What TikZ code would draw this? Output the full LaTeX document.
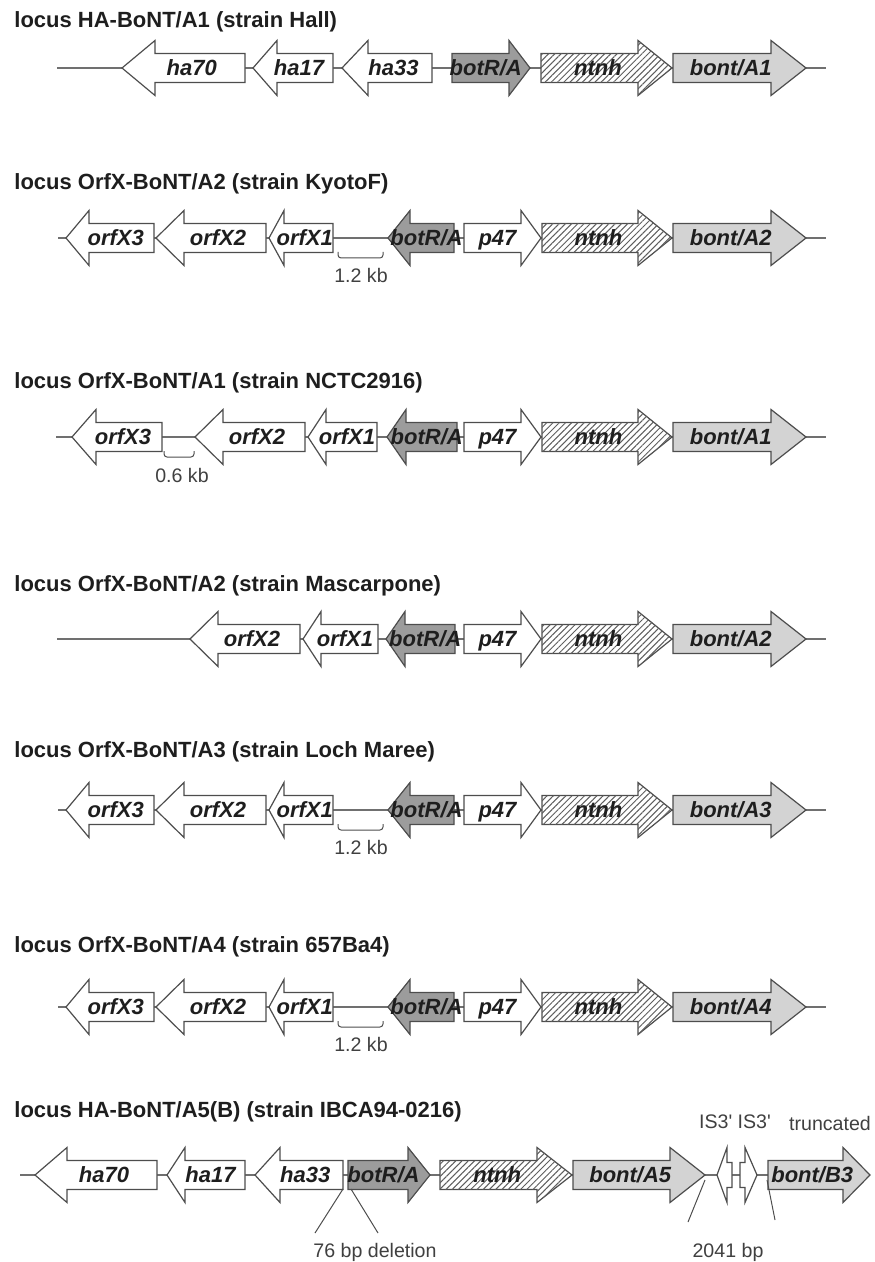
\documentclass[tikz,border=0pt]{standalone}
\usepackage{fontspec}
\setmainfont{Liberation Sans}
\newfontfamily\straightsans{Liberation Sans}[Ligatures=TeXOff]
\usetikzlibrary{patterns.meta}

\definecolor{outl}{HTML}{4d4d4d}
\definecolor{spine}{HTML}{707070}
\definecolor{botrfill}{HTML}{9c9c9c}
\definecolor{bontfill}{HTML}{d3d3d3}
\definecolor{hatch}{HTML}{5e5e5e}
\definecolor{ink}{HTML}{1e1e1e}

\tikzset{
  whitegene/.style={draw=outl, line width=.6pt, fill=white},
  botrgene/.style={whitegene, fill=botrfill},
  bontgene/.style={whitegene, fill=bontfill},
  ntnhgene/.style={whitegene, postaction={pattern={Lines[angle=45,distance=2.2pt,line width=.5pt]}, pattern color=hatch}},
  genelabel/.style={font=\fontsize{11}{13}\selectfont\bfseries\itshape, text=ink, inner sep=0pt, text height=7.9pt, text depth=0pt},
  locustitle/.style={font=\fontsize{11}{13}\selectfont\bfseries, text=ink, anchor=west, inner sep=0pt},
  note/.style={font=\fontsize{9.8}{12}\selectfont, text=ink!85, inner sep=0pt},
  spineline/.style={draw=spine, line width=.75pt},
  pointer/.style={draw=outl, line width=.5pt},
  kbbrace/.style={draw=outl, line width=.5pt, rounded corners=1.5pt},
}

% [body half height]{name}{style}{tail x}{head base x}{tip x}{y}{label}
\newcommand{\genearrow}[8][14.5]{%
  \draw[#3] (#4,#7-#1) -- (#5,#7-#1) -- (#5,#7-27.5) -- (#6,#7) -- (#5,#7+27.5) -- (#5,#7+#1) -- (#4,#7+#1) -- cycle;
  \node[genelabel] (#2) at ({(2*#4+#5+#6)/4},#7) {#8};}

\begin{document}
\begin{tikzpicture}[x=0.5pt,y=-0.5pt]
\useasboundingbox (0,0) rectangle (874,1262);

\node[locustitle] (ta) at (14,22) {locus HA-BoNT/A1 (strain Hall)};
\coordinate (sa) at (57,68);
\coordinate (ea) at (826,68);
\draw[spineline] (sa) -- (ea);
\genearrow{ha70a}{whitegene}{245}{155}{122}{68}{ha70}
\genearrow{ha17a}{whitegene}{333}{277}{253}{68}{ha17}
\genearrow{ha33a}{whitegene}{432}{368}{342}{68}{ha33}
\genearrow{botRa}{botrgene}{452}{509}{530}{68}{botR/A}
\genearrow{ntnha}{ntnhgene}{541}{638}{672}{68}{ntnh}
\genearrow{bonta}{bontgene}{673}{771}{806}{68}{bont/A1}

\node[locustitle] (tb) at (14,184) {locus OrfX-BoNT/A2 (strain KyotoF)};
\coordinate (sb) at (58,238);
\coordinate (eb) at (826,238);
\draw[spineline] (sb) -- (eb);
\genearrow{orfXthreeb}{whitegene}{154}{89}{66}{238}{orfX3}
\genearrow{orfXtwob}{whitegene}{266}{184}{156}{238}{orfX2}
\genearrow{orfXoneb}{whitegene}{333}{284}{269}{238}{orfX1}
\genearrow{botRb}{botrgene}{454}{410}{388}{238}{botR/A}
\genearrow{pb}{whitegene}{464}{521}{541}{238}{p47}
\genearrow{ntnhb}{ntnhgene}{542}{638}{672}{238}{ntnh}
\genearrow{bontb}{bontgene}{673}{771}{806}{238}{bont/A2}
\draw[kbbrace] (338,252) -- (338,258) -- (383,258) -- (383,252);
\node[note] (kbb) at (361,275) {1.2 kb};

\node[locustitle] (tc) at (14,383) {locus OrfX-BoNT/A1 (strain NCTC2916)};
\coordinate (sc) at (56,437);
\coordinate (ec) at (826,437);
\draw[spineline] (sc) -- (ec);
\genearrow{orfXthreec}{whitegene}{162}{96}{72}{437}{orfX3}
\genearrow{orfXtwoc}{whitegene}{305}{223}{195}{437}{orfX2}
\genearrow{orfXonec}{whitegene}{377}{326}{308}{437}{orfX1}
\genearrow{botRc}{botrgene}{457}{406}{387}{437}{botR/A}
\genearrow{pc}{whitegene}{464}{521}{541}{437}{p47}
\genearrow{ntnhc}{ntnhgene}{542}{638}{672}{437}{ntnh}
\genearrow{bontc}{bontgene}{673}{771}{806}{437}{bont/A1}
\draw[kbbrace] (164,451) -- (164,457) -- (194,457) -- (194,451);
\node[note] (kbc) at (182,475) {0.6 kb};

\node[locustitle] (td) at (14,586) {locus OrfX-BoNT/A2 (strain Mascarpone)};
\coordinate (sd) at (57,639);
\coordinate (ed) at (826,639);
\draw[spineline] (sd) -- (ed);
\genearrow{orfXtwod}{whitegene}{300}{218}{190}{639}{orfX2}
\genearrow{orfXoned}{whitegene}{378}{321}{303}{639}{orfX1}
\genearrow{botRd}{botrgene}{455}{405}{386}{639}{botR/A}
\genearrow{pd}{whitegene}{464}{521}{541}{639}{p47}
\genearrow{ntnhd}{ntnhgene}{542}{638}{672}{639}{ntnh}
\genearrow{bontd}{bontgene}{673}{771}{806}{639}{bont/A2}

\node[locustitle] (te) at (14,752) {locus OrfX-BoNT/A3 (strain Loch Maree)};
\coordinate (se) at (58,810);
\coordinate (ee) at (826,810);
\draw[spineline] (se) -- (ee);
\genearrow{orfXthreee}{whitegene}{154}{89}{66}{810}{orfX3}
\genearrow{orfXtwoe}{whitegene}{266}{184}{156}{810}{orfX2}
\genearrow{orfXonee}{whitegene}{333}{284}{269}{810}{orfX1}
\genearrow{botRe}{botrgene}{454}{410}{388}{810}{botR/A}
\genearrow{pe}{whitegene}{464}{521}{541}{810}{p47}
\genearrow{ntnhe}{ntnhgene}{542}{638}{672}{810}{ntnh}
\genearrow{bonte}{bontgene}{673}{771}{806}{810}{bont/A3}
\draw[kbbrace] (338,824) -- (338,830) -- (383,830) -- (383,824);
\node[note] (kbe) at (361,847) {1.2 kb};

\node[locustitle] (tf) at (14,947) {locus OrfX-BoNT/A4 (strain 657Ba4)};
\coordinate (sf) at (58,1007);
\coordinate (ef) at (826,1007);
\draw[spineline] (sf) -- (ef);
\genearrow{orfXthreef}{whitegene}{154}{89}{66}{1007}{orfX3}
\genearrow{orfXtwof}{whitegene}{266}{184}{156}{1007}{orfX2}
\genearrow{orfXonef}{whitegene}{333}{284}{269}{1007}{orfX1}
\genearrow{botRf}{botrgene}{454}{410}{388}{1007}{botR/A}
\genearrow{pf}{whitegene}{464}{521}{541}{1007}{p47}
\genearrow{ntnhf}{ntnhgene}{542}{638}{672}{1007}{ntnh}
\genearrow{bontf}{bontgene}{673}{771}{806}{1007}{bont/A4}
\draw[kbbrace] (338,1021) -- (338,1027) -- (383,1027) -- (383,1021);
\node[note] (kbf) at (361,1044) {1.2 kb};

\node[locustitle] (tg) at (14,1112) {locus HA-BoNT/A5(B) (strain IBCA94-0216)};
\node[note, font=\fontsize{9.8}{12}\selectfont\straightsans] (isg) at (735,1122) {IS3' IS3'};
\node[note] (trg) at (830,1123) {truncated};
\coordinate (sg) at (20,1175);
\coordinate (eg) at (768,1175);
\draw[spineline] (sg) -- (eg);
\genearrow{ha70g}{whitegene}{157}{67}{35}{1175}{ha70}
\genearrow{ha17g}{whitegene}{245}{185}{167}{1175}{ha17}
\genearrow{ha33g}{whitegene}{343}{280}{255}{1175}{ha33}
\genearrow{botRg}{botrgene}{348}{408}{430}{1175}{botR/A}
\genearrow{ntnhg}{ntnhgene}{440}{537}{572}{1175}{ntnh}
\genearrow{bontg}{bontgene}{573}{670}{705}{1175}{bont/A5}
\genearrow[12.5]{isag}{whitegene}{732}{727}{717}{1175}{}
\genearrow[12.5]{isbg}{whitegene}{740}{745}{757}{1175}{}
\genearrow{bontBg}{bontgene}{768}{843}{870}{1175}{bont/B3}
\coordinate (dla) at (343,1189);
\coordinate (dlb) at (315,1233);
\coordinate (dra) at (351,1189);
\coordinate (drb) at (378,1233);
\draw[pointer] (dla) -- (dlb);
\draw[pointer] (dra) -- (drb);
\node[note] (delg) at (375,1252) {76 bp deletion};
\coordinate (ila) at (705,1180);
\coordinate (ilb) at (688,1222);
\coordinate (ira) at (767,1180);
\coordinate (irb) at (775,1220);
\draw[pointer] (ila) -- (ilb);
\draw[pointer] (ira) -- (irb);
\node[note] (bpg) at (728,1252) {2041 bp};
\end{tikzpicture}
\end{document}
